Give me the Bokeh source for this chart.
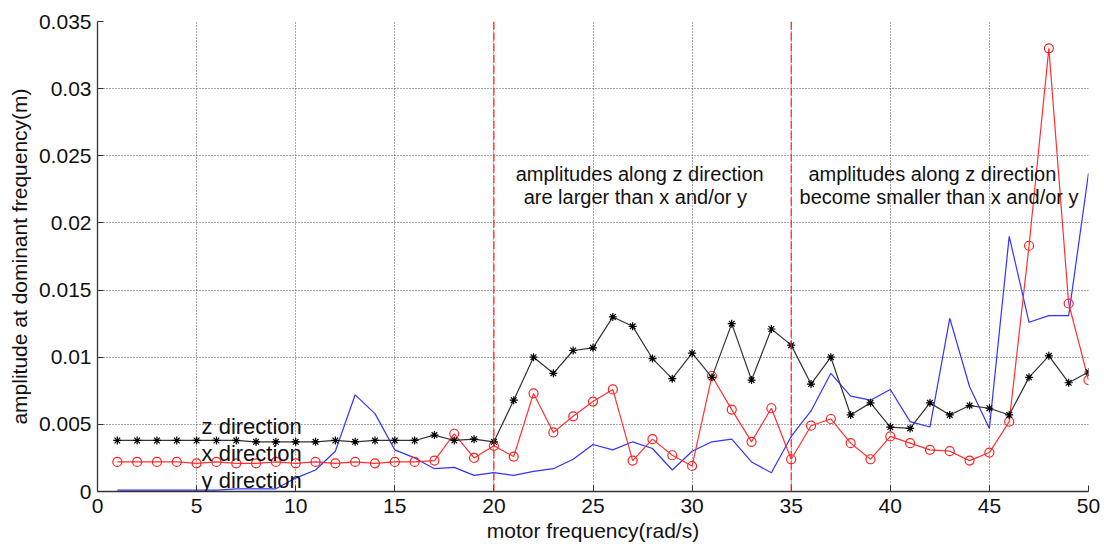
from bokeh.plotting import figure
from bokeh.models import FixedTicker, Span, Range1d
from bokeh.core.properties import value
from bokeh.embed import file_html
from bokeh.resources import INLINE

# ---------------- data ----------------
freq = list(range(1, 51))

z_dir = [0.0038, 0.0038, 0.0038, 0.0038, 0.0038, 0.0038, 0.0038, 0.0037, 0.0037, 0.0037,
         0.0037, 0.0038, 0.0037, 0.0038, 0.0038, 0.0038, 0.0042, 0.0038, 0.0039, 0.0037,
         0.0068, 0.0100, 0.0088, 0.0105, 0.0107, 0.0130, 0.0123, 0.0099, 0.0084, 0.0103,
         0.0085, 0.0125, 0.0083, 0.0121, 0.0109, 0.0080, 0.0100, 0.0057, 0.0066, 0.0048,
         0.0047, 0.0066, 0.0057, 0.0064, 0.0062, 0.0057, 0.0085, 0.0101, 0.0081, 0.0089]

x_dir = [0.0022, 0.0022, 0.0022, 0.0022, 0.0021, 0.0022, 0.0021, 0.0021, 0.0022, 0.0021,
         0.0022, 0.0021, 0.0022, 0.0021, 0.0022, 0.0022, 0.0023, 0.0043, 0.0025, 0.0034,
         0.0026, 0.0073, 0.0044, 0.0056, 0.0067, 0.0076, 0.0023, 0.0039, 0.0027, 0.0019,
         0.0086, 0.0061, 0.0037, 0.0062, 0.0024, 0.0049, 0.0054, 0.0036, 0.0024, 0.0041,
         0.0036, 0.0031, 0.0030, 0.0023, 0.0029, 0.0052, 0.0183, 0.0330, 0.0140, 0.0083]

y_dir = [0.0001, 0.0001, 0.0001, 0.0001, 0.0001, 0.0001, 0.0002, 0.0002, 0.0002, 0.0010,
         0.0016, 0.0030, 0.0072, 0.0058, 0.0031, 0.0025, 0.0017, 0.0018, 0.0012, 0.0014,
         0.0012, 0.0015, 0.0017, 0.0024, 0.0035, 0.0031, 0.0037, 0.0032, 0.0016, 0.0030,
         0.0037, 0.0039, 0.0022, 0.0014, 0.0041, 0.0060, 0.0088, 0.0071, 0.0068, 0.0076,
         0.0052, 0.0048, 0.0129, 0.0078, 0.0047, 0.0190, 0.0126, 0.0131, 0.0131, 0.0237]

x_ticks = [0, 5, 10, 15, 20, 25, 30, 35, 40, 45, 50]
y_ticks = [0, 0.005, 0.01, 0.015, 0.02, 0.025, 0.03, 0.035]
y_tick_labels = ["0", "0.005", "0.01", "0.015", "0.02", "0.025", "0.03", "0.035"]

boundaries = [20, 35]
series_labels = ["z direction", "x direction", "y direction"]
note_left = ["amplitudes along z direction", "are larger than x and/or y"]
note_right = ["amplitudes along z direction", "become smaller than x and/or y"]

FONT = "Liberation Sans"

# ---------------- figure ----------------
p = figure(width=1104, height=544, output_backend="svg", toolbar_location=None,
           x_range=Range1d(0, 50), y_range=Range1d(0, 0.035),
           min_border_left=97, min_border_right=16, min_border_top=21, min_border_bottom=52)
p.outline_line_color = None
p.background_fill_color = "white"
p.border_fill_color = "white"

# grid
for g in (p.xgrid, p.ygrid):
    g.grid_line_color = "#555555"
    g.grid_line_dash = "1 2"
    g.grid_line_width = 1
p.xgrid.ticker = FixedTicker(ticks=x_ticks)
p.ygrid.ticker = FixedTicker(ticks=y_ticks)

# axes
p.xaxis.ticker = FixedTicker(ticks=x_ticks)
p.yaxis.ticker = FixedTicker(ticks=y_ticks)
p.yaxis.major_label_overrides = {t: l for t, l in zip(y_ticks, y_tick_labels)}
for ax in (p.xaxis[0], p.yaxis[0]):
    ax.axis_line_color = "#333333"
    ax.axis_line_width = 1.3
    ax.major_tick_line_color = "#333333"
    ax.major_tick_in = 6
    ax.major_tick_out = 0
    ax.minor_tick_line_color = None
    ax.major_label_text_font = FONT
    ax.major_label_text_font_size = "21px"
    ax.major_label_text_color = "#111111"
    ax.axis_label_text_font = FONT
    ax.axis_label_text_font_style = "normal"
    ax.axis_label_text_font_size = "21px"
    ax.axis_label_text_color = "#111111"
p.xaxis.axis_label = "motor frequency(rad/s)"
p.yaxis.axis_label = "amplitude at dominant frequency(m)"
p.xaxis.major_label_standoff = 7
p.xaxis.axis_label_standoff = 3
p.yaxis.major_label_standoff = 6
p.yaxis.axis_label_standoff = 5

# boundary lines
for b in boundaries:
    p.add_layout(Span(location=b, dimension="height", line_color="#ff2020",
                      line_dash="8 3", line_width=1.2))

# series
p.line(freq, y_dir, line_color="#3333ff", line_width=1.2)
p.line(freq, x_dir, line_color="#ff3030", line_width=1.2)
p.scatter(freq, x_dir, marker="circle", size=9, fill_color=None,
          line_color="#ff2020", line_width=1.2)
p.line(freq, z_dir, line_color="#333333", line_width=1.2)
p.scatter(freq, z_dir, marker="asterisk", size=8, line_color="#000000", line_width=1.2)

# series labels
p.text(x=[5.25, 5.25, 5.25], y=[0.00483, 0.00283, 0.00082], text=series_labels,
       text_font=value(FONT), text_font_size="22px", text_color="#111111",
       text_align="left", text_baseline="alphabetic")

# annotations
p.text(x=[21.1, 21.5], y=[0.02363, 0.02193], text=note_left,
       text_font=value(FONT), text_font_size="20px", text_color="#111111",
       text_align="left", text_baseline="alphabetic")
p.text(x=[35.87, 35.42], y=[0.02363, 0.02193], text=note_right,
       text_font=value(FONT), text_font_size="20px", text_color="#111111",
       text_align="left", text_baseline="alphabetic")

open("out.html", "w").write(file_html(p, INLINE))
